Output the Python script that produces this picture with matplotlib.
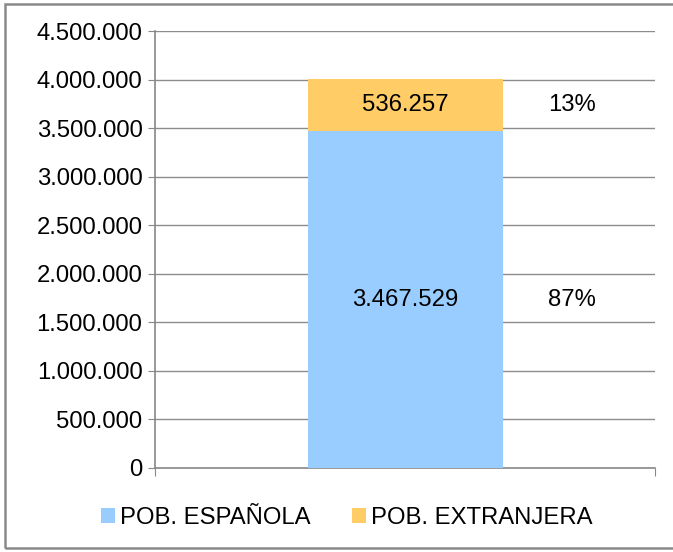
import matplotlib.pyplot as plt
from matplotlib.patches import Rectangle

plt.rcParams['font.family'] = ['Liberation Sans', 'DejaVu Sans']

# data
series = ['POB. ESPAÑOLA', 'POB. EXTRANJERA']
values = [3467529, 536257]
pct_labels = ['87%', '13%']
colors = ['#99CCFF', '#FFCC66']
yticks = list(range(0, 4500001, 500000))

FS = 17.2


def fmt(v):
    return f'{v:,}'.replace(',', '.')


fig = plt.figure(figsize=(6.73, 5.52), dpi=100)
ax = fig.add_axes([155/673, 1-468/552, 500/673, 437/552])

bottom = 0
for name, v, c, p in zip(series, values, colors, pct_labels):
    ax.bar(0, v, width=0.39, bottom=bottom, color=c, label=name, zorder=3)
    mid = bottom + v / 2
    ax.text(0, mid, fmt(v), ha='center', va='center', fontsize=FS, zorder=4)
    ax.text(0.334, mid, p, ha='center', va='center', fontsize=FS)
    bottom += v

ax.set_xlim(-0.5, 0.5)
ax.set_ylim(0, 4500000)
ax.set_yticks(yticks)
ax.set_yticklabels([fmt(t) for t in yticks], fontsize=FS)
ax.set_xticks([-0.5, 0.5])
ax.set_xticklabels([])
ax.tick_params(axis='x', length=6, color='#888888', direction='out')
ax.tick_params(axis='y', length=5, color='#888888', pad=4)
ax.grid(axis='y', color='#8c8c8c', linewidth=1, zorder=0)
for s in ['top', 'right']:
    ax.spines[s].set_visible(False)
for s in ['left', 'bottom']:
    ax.spines[s].set_color('#888888')
    ax.spines[s].set_linewidth(1.2)

fig.legend(loc='center', bbox_to_anchor=(347/673, 1-518/552), ncol=2,
           frameon=False, fontsize=FS, handlelength=0.59, handleheight=0.59,
           handletextpad=0.2, columnspacing=1.75)

# outer frame
fig.patches.append(Rectangle((5/673, 4/552), 1.0, 544/552, transform=fig.transFigure,
                             fill=False, edgecolor='#8a8a8a', linewidth=1.8,
                             clip_on=False))

fig.savefig('out.png', dpi=100)
